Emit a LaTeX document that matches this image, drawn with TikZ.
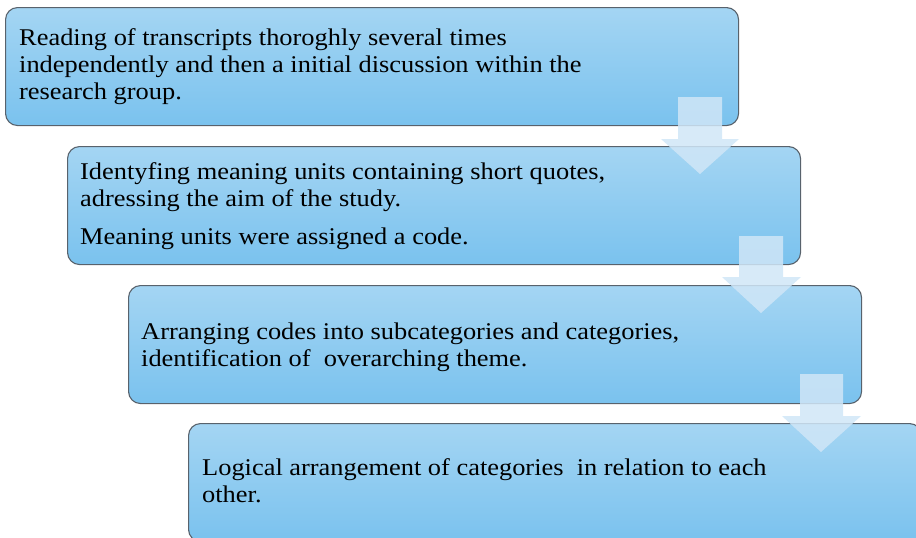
\documentclass[tikz,border=0pt]{standalone}
\usepackage{fontspec}
\setmainfont{Liberation Serif}[FakeStretch=1.1]
\definecolor{boxtop}{RGB}{164,213,243}
\definecolor{boxbot}{RGB}{122,194,238}
\definecolor{boxline}{RGB}{88,98,108}
\definecolor{arrowfill}{RGB}{208,230,247}
\begin{document}
\begin{tikzpicture}[x=1pt,y=-1pt,
  stepbox/.style={draw=boxline, line width=1.1pt, rounded corners=12pt,
    top color=boxtop, bottom color=boxbot, inner sep=0pt,
    minimum width=733pt, minimum height=118pt, anchor=north west},
  txt/.style={anchor=base west, align=left, inner sep=0pt,
    font=\fontsize{24}{26.7}\selectfont, text=black},
  downarrow/.style={fill=arrowfill, fill opacity=0.85}]
\clip (0,0) rectangle (916,538);
% boxes
\node[stepbox] (b1) at (5,7) {};
\node[stepbox] (b2) at (67,146) {};
\node[stepbox] (b3) at (128,285) {};
\node[stepbox] (b4) at (188,423) {};
% texts (anchored at the baseline of the last line)
\node[txt] (t1) at (19,99) {Reading of transcripts thoroghly several times\\independently and then a initial discussion within the\\research group.};
\node[txt] (t2) at (80,244) {Identyfing meaning units containing short quotes,\\adressing the aim of the study.\\[11.3pt]Meaning units were assigned a code.};
\node[txt] (t3) at (141,366) {Arranging codes into subcategories and categories,\\identification of\ \ overarching theme.};
\node[txt] (t4) at (202,502) {Logical arrangement of categories\ \ in relation to each\\other.};
% arrows
\fill[downarrow] (678,97) -- (722,97) -- (722,139) -- (739,139) -- (700,174) -- (661,139) -- (678,139) -- cycle;
\fill[downarrow] (739,236) -- (783,236) -- (783,277) -- (801,277) -- (761,313) -- (722,277) -- (739,277) -- cycle;
\fill[downarrow] (800,374) -- (843,374) -- (843,416) -- (861,416) -- (821,452) -- (782,416) -- (800,416) -- cycle;
\end{tikzpicture}
\end{document}
